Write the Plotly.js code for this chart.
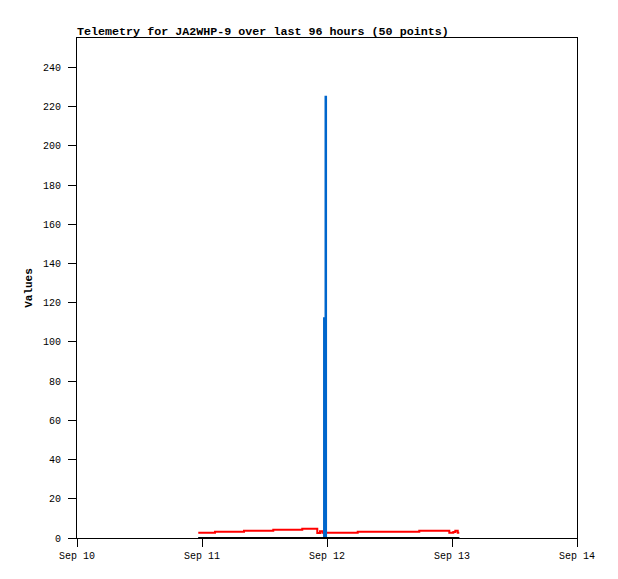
<!DOCTYPE html>
<html>
<head>
<meta charset="utf-8">
<script src="https://cdn.plot.ly/plotly-3.0.1.min.js"></script>
<style>
  html, body { margin: 0; padding: 0; background: #fff; }
  #chart { width: 618px; height: 579px; }
</style>
</head>
<body>
<div id="chart"></div>
<script>
// Red series (step values)
const redTimes = [
  '2025-09-10 23:17', '2025-09-11 02:30', '2025-09-11 08:04', '2025-09-11 13:41',
  '2025-09-11 19:15', '2025-09-11 22:08', '2025-09-11 22:39', '2025-09-11 23:06',
  '2025-09-12 05:54', '2025-09-12 17:43', '2025-09-12 23:29', '2025-09-13 00:15',
  '2025-09-13 00:38', '2025-09-13 01:06', '2025-09-13 01:24'
];
const redValues = [2.7, 3.2, 3.7, 4.2, 4.7, 2.5, 3.4, 2.7, 3.2, 3.7, 2.7, 3.1, 3.7, 2.7, 2.7];

// Blue series (spike)
const blueTimes = [
  '2025-09-10 23:17', '2025-09-11 23:27', '2025-09-11 23:44', '2025-09-11 23:48', '2025-09-13 01:24'
];
const blueValues = [0, 112, 225, 0, 0];

// Black series (zero line)
const blackTimes = ['2025-09-10 23:17', '2025-09-13 01:24'];
const blackValues = [0, 0];

const xTickVals = ['2025-09-10', '2025-09-11', '2025-09-12', '2025-09-13', '2025-09-14'];
const xTickText = ['Sep 10', 'Sep 11', 'Sep 12', 'Sep 13', 'Sep 14'];
const yTickVals = [0, 20, 40, 60, 80, 100, 120, 140, 160, 180, 200, 220, 240];

const mono = 'Liberation Mono, DejaVu Sans Mono, monospace';

const traces = [
  { x: redTimes, y: redValues, type: 'scatter', mode: 'lines',
    line: { color: '#ff0000', width: 2, shape: 'hv' }, hoverinfo: 'skip' },
  { x: blueTimes, y: blueValues, type: 'scatter', mode: 'lines',
    line: { color: '#0066cc', width: 2.2, shape: 'hv' }, hoverinfo: 'skip' },
  { x: blackTimes, y: blackValues, type: 'scatter', mode: 'lines',
    line: { color: '#000000', width: 2 }, hoverinfo: 'skip' }
];

const layout = {
  width: 618, height: 579,
  margin: { l: 77, r: 41, t: 38, b: 41 },
  paper_bgcolor: '#ffffff', plot_bgcolor: '#ffffff',
  showlegend: false,
  font: { family: mono, size: 10, color: '#000' },
  title: {
    text: '<b>Telemetry for JA2WHP-9 over last 96 hours (50 points)</b>',
    font: { family: mono, size: 11.7, color: '#000' },
    xref: 'paper', x: 0, xanchor: 'left',
    yref: 'paper', y: 1, yanchor: 'bottom', pad: { b: 3 }
  },
  xaxis: {
    type: 'date',
    range: ['2025-09-10', '2025-09-14'],
    tickmode: 'array', tickvals: xTickVals, ticktext: xTickText,
    ticks: 'outside', ticklen: 8, tickcolor: '#000', tickwidth: 1,
    showgrid: false, zeroline: false,
    showline: true, linecolor: '#000', linewidth: 1, mirror: true,
    tickfont: { family: mono, size: 10, color: '#000' }
  },
  yaxis: {
    range: [0, 255],
    tickmode: 'array', tickvals: yTickVals,
    ticks: 'outside', ticklen: 8, tickcolor: '#000', tickwidth: 1,
    ticklabelstandoff: 5,
    showgrid: false, zeroline: false,
    showline: true, linecolor: '#000', linewidth: 1, mirror: true,
    tickfont: { family: mono, size: 10, color: '#000' },
    title: { text: '<b>Values</b>', font: { family: mono, size: 11, color: '#000' }, standoff: 8 }
  }
};

Plotly.newPlot('chart', traces, layout, { staticPlot: true, displayModeBar: false });
</script>
</body>
</html>
